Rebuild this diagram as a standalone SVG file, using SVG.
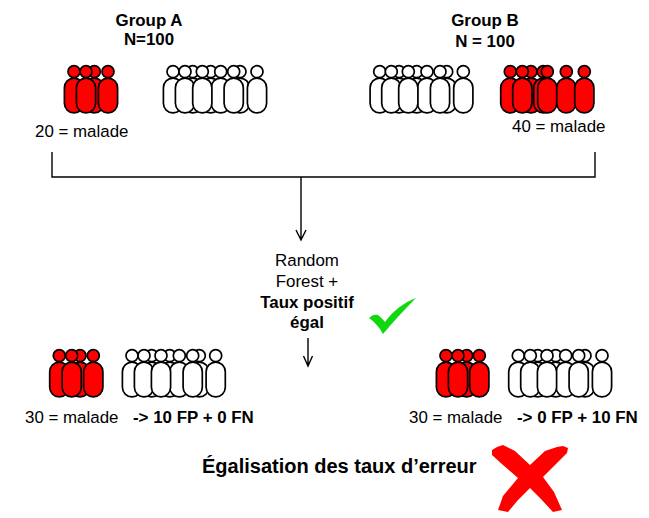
<svg xmlns="http://www.w3.org/2000/svg" width="649" height="518" viewBox="0 0 649 518">
<style>
text{font-family:"Liberation Sans",Arial,sans-serif;font-size:16.900px;fill:#000}
.b{font-weight:bold}
.m{text-anchor:middle}
.conn{fill:none;stroke:#000;stroke-width:1.4}
.p{stroke:#000;stroke-width:1.7}
.red{fill:#f00}
.white{fill:#fff}
</style>
<defs>
<g id="person" class="p"><rect x="-9.600" y="6.400" width="19.200" height="34.800" rx="9.600" ry="9.600"/><circle cx="0" cy="0" r="6"/></g>
</defs>
<rect width="649" height="518" fill="#fff"/>
<g id="connectors">
<path class="conn" d="M52 152V177H595V152"/>
<path class="conn" d="M301 177V240M296 230L301 240L306 230"/>
<path class="conn" d="M308 338V366M303.500 356L308 366L312.500 356"/>
</g>
<g id="group-a-label"><text class="b m" x="149" y="26">Group A</text><text class="b m" x="149" y="45">N=100</text></g>
<g id="group-b-label"><text class="b m" x="485" y="26">Group B</text><text class="b m" x="485" y="47">N = 100</text></g>
<g id="a-red" class="red"><use href="#person" x="74" y="71.700"/><use href="#person" x="94.300" y="71.700"/><use href="#person" x="86" y="71.700"/><use href="#person" x="108" y="71.700"/></g>
<g id="a-white" class="white"><use href="#person" x="192.700" y="71.700"/><use href="#person" x="240" y="71.700"/><use href="#person" x="210.700" y="71.700"/><use href="#person" x="220.700" y="71.700"/><use href="#person" x="173" y="71.700"/><use href="#person" x="185" y="71.700"/><use href="#person" x="202.300" y="71.700"/><use href="#person" x="233.700" y="71.700"/><use href="#person" x="257" y="71.700"/></g>
<g id="a-label"><text x="35" y="137">20 = malade</text></g>
<g id="b-white" class="white"><use href="#person" x="399" y="71.700"/><use href="#person" x="446.700" y="71.700"/><use href="#person" x="416.700" y="71.700"/><use href="#person" x="427" y="71.700"/><use href="#person" x="379.700" y="71.700"/><use href="#person" x="391.300" y="71.700"/><use href="#person" x="408.300" y="71.700"/><use href="#person" x="440" y="71.700"/><use href="#person" x="463.300" y="71.700"/></g>
<g id="b-red" class="red"><use href="#person" x="531" y="71.700"/><use href="#person" x="510.300" y="71.700"/><use href="#person" x="522.300" y="71.700"/><use href="#person" x="543.300" y="71.700"/><use href="#person" x="547.300" y="71.700"/><use href="#person" x="566.300" y="71.700"/><use href="#person" x="584.300" y="71.700"/></g>
<g id="b-label"><text x="512" y="132">40 = malade</text></g>
<g id="model"><text class="m" x="307" y="266">Random</text><text class="m" x="307" y="287">Forest +</text><text class="b m" x="307" y="307.500">Taux positif</text><text class="b m" x="307" y="328">égal</text></g>
<g id="check"><path d="M369 318C372 315 375 314 378 315C381 317 383 320 385 322C393 311 403 303 416 298C404 310 393 322 383 334C379 327 375 322 369 318Z" fill="#0fd80f"/></g>
<g id="c-red" class="red"><use href="#person" x="59.300" y="355.700"/><use href="#person" x="80" y="355.700"/><use href="#person" x="71.700" y="355.700"/><use href="#person" x="93.300" y="355.700"/></g>
<g id="c-white" class="white"><use href="#person" x="151.700" y="355.700"/><use href="#person" x="199.300" y="355.700"/><use href="#person" x="169.700" y="355.700"/><use href="#person" x="179.300" y="355.700"/><use href="#person" x="132" y="355.700"/><use href="#person" x="144" y="355.700"/><use href="#person" x="161" y="355.700"/><use href="#person" x="192.700" y="355.700"/><use href="#person" x="215.700" y="355.700"/></g>
<g id="c-label"><text x="25" y="423">30 = malade</text><text class="b" x="133" y="423">-&gt; 10 FP + 0 FN</text></g>
<g id="d-red" class="red"><use href="#person" x="446" y="355.700"/><use href="#person" x="466.700" y="355.700"/><use href="#person" x="458" y="355.700"/><use href="#person" x="479.300" y="355.700"/></g>
<g id="d-white" class="white"><use href="#person" x="537.700" y="355.700"/><use href="#person" x="585" y="355.700"/><use href="#person" x="555.700" y="355.700"/><use href="#person" x="565.700" y="355.700"/><use href="#person" x="518.300" y="355.700"/><use href="#person" x="530.300" y="355.700"/><use href="#person" x="547" y="355.700"/><use href="#person" x="578.700" y="355.700"/><use href="#person" x="602" y="355.700"/></g>
<g id="d-label"><text x="409" y="423">30 = malade</text><text class="b" x="517" y="423">-&gt; 0 FP + 10 FN</text></g>
<g id="footer"><text class="b" x="202" y="473" style="font-size:20px">Égalisation des taux d’erreur</text></g>
<g id="cross"><path d="M492 450L497 447L503 445L515 451L530 465L545 451L557 447L563 446L568 448L567 453L543 477L554 492L562 510L553 512L541 499L530 488L518 500L508 512L498 510L503 496L518 478L503 465L492 455Z" fill="#f00"/></g>
</svg>
